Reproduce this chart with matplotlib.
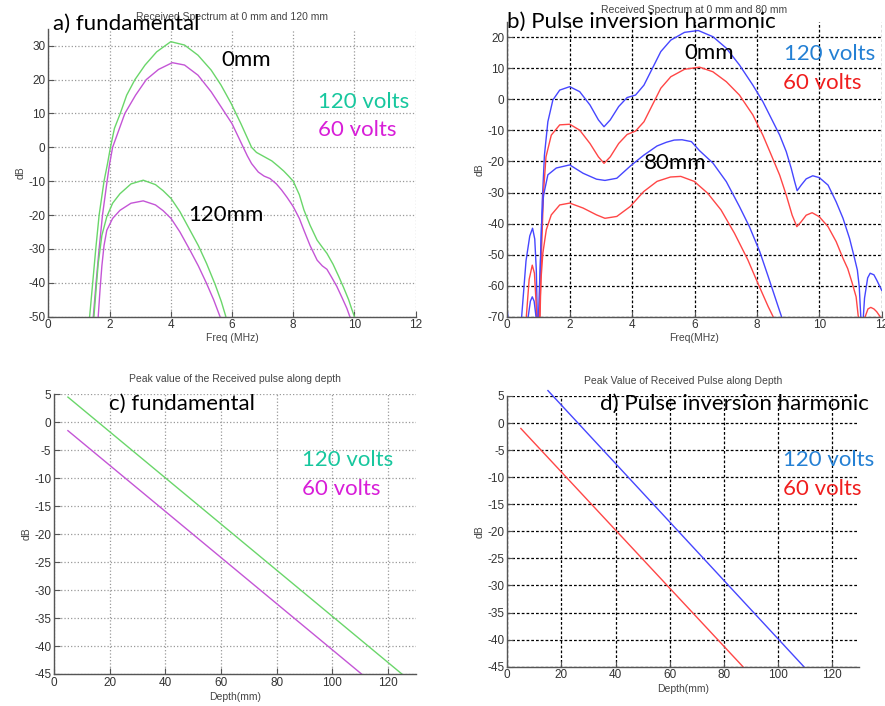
import numpy as np
from matplotlib import pyplot as plt

# a) espectro fundamental (0 mm e 120 mm)
a_f_0mm_120v = [1.33, 1.35, 1.45, 1.55, 1.66, 1.82, 1.93, 2.03, 2.16, 2.35, 2.56, 2.83, 3.16, 3.54, 4.0, 4.45, 4.89, 5.32, 5.64, 5.97, 6.29, 6.64, 6.8, 7.0, 7.3, 7.5, 7.69, 7.85, 8.0, 8.2, 8.35, 8.55, 8.78, 8.95, 9.1, 9.3, 9.48, 9.65, 9.81, 9.92, 10.0, 10.02]
a_db_0mm_120v = [-53, -50, -40, -30, -20, -10, -5, 0, 5.6, 10, 15.4, 20, 24.3, 28.2, 31.2, 30.2, 27.2, 22.8, 18.4, 13, 7, 0, -1.5, -2.5, -4, -5.5, -7, -8.5, -10, -14, -18.5, -23, -27.4, -29.5, -31.3, -34.5, -38, -41.5, -45, -48, -50, -53]
a_f_0mm_60v = [1.45, 1.47, 1.56, 1.66, 1.77, 1.92, 2.0, 2.1, 2.3, 2.5, 2.85, 3.2, 3.6, 4.05, 4.45, 4.89, 5.32, 5.64, 6.0, 6.29, 6.5, 6.64, 6.86, 7.05, 7.24, 7.45, 7.62, 7.8, 8.0, 8.2, 8.35, 8.55, 8.78, 8.95, 9.1, 9.25, 9.42, 9.6, 9.75, 9.85, 9.87]
a_db_0mm_60v = [-53, -50, -40, -30, -20, -10, -5, 0, 5, 10, 15.4, 20, 23, 25, 24.3, 21.3, 16.4, 12, 7, 1.5, -2.5, -4.8, -7.3, -8.5, -9.2, -10.8, -12.6, -14.8, -17.5, -21, -24.5, -29, -33.3, -35, -36, -38.3, -41, -44.5, -47.5, -50, -53]
a_f_120mm_120v = [1.48, 1.49, 1.56, 1.63, 1.75, 1.91, 2.1, 2.34, 2.7, 3.1, 3.5, 3.75, 4.01, 4.3, 4.63, 4.9, 5.17, 5.45, 5.65, 5.8, 5.83]
a_db_120mm_120v = [-53, -50, -42, -34.3, -26, -20.5, -16.5, -13.7, -10.8, -9.7, -11, -12.8, -15.1, -19, -24.5, -29, -34.3, -40.5, -45.5, -50, -53]
a_f_120mm_60v = [1.62, 1.63, 1.69, 1.75, 1.82, 1.91, 2.1, 2.34, 2.7, 3.1, 3.5, 3.75, 4.01, 4.3, 4.63, 4.9, 5.17, 5.4, 5.61, 5.64]
a_db_120mm_60v = [-53, -50, -42, -35, -29, -24.5, -21, -18.6, -16.5, -15.8, -17, -18.7, -21, -25, -30.4, -35, -40.2, -45, -50, -53]

# b) espectro harmonico por inversao de pulso (0 mm e 80 mm)
b_f_0mm_120v = [0, 0.06, 0.46, 0.6, 0.72, 0.81, 0.88, 0.93, 0.97, 1.03, 1.06, 1.12, 1.19, 1.30, 1.46, 1.68, 2.0, 2.32, 2.65, 2.92, 3.10, 3.3, 3.57, 3.84, 4.11, 4.38, 4.65, 4.92, 5.24, 5.68, 6.12, 6.59, 7.02, 7.44, 7.87, 8.19, 8.46, 8.73, 8.94, 9.1, 9.21, 9.29, 9.42, 9.58, 9.79, 10.0, 10.28, 10.54, 10.76, 10.97, 11.13, 11.22, 11.28, 11.33, 11.38, 11.45, 11.55, 11.63, 11.75, 11.84, 12.0]
b_db_0mm_120v = [-68, -75, -70, -52, -44, -41.5, -45, -55, -75, -70, -55, -33, -18, -7.2, -0.2, 3.0, 4.1, 2.5, -1.8, -6.6, -8.8, -6.6, -2.3, 0.6, 1.4, 4.6, 10, 15.4, 19.1, 21.6, 22.2, 20.2, 16.5, 11.1, 4.6, -0.7, -6.1, -11.5, -16.8, -22.2, -26.5, -29.4, -27.6, -25.6, -24.6, -25.2, -27.6, -33, -38.3, -44.8, -51.2, -55, -60.3, -70, -75, -64, -57.5, -56, -56.5, -58.2, -61.5]
b_f_0mm_60v = [0.55, 0.61, 0.7, 0.8, 0.87, 0.92, 0.96, 1.05, 1.10, 1.16, 1.24, 1.41, 1.68, 2.0, 2.32, 2.65, 2.92, 3.10, 3.3, 3.57, 3.84, 4.11, 4.38, 4.65, 4.92, 5.24, 5.68, 6.16, 6.59, 7.02, 7.44, 7.87, 8.19, 8.46, 8.73, 8.94, 9.13, 9.28, 9.42, 9.58, 9.77, 10.0, 10.28, 10.54, 10.76, 10.91, 11.05, 11.18, 11.25, 11.32, 11.47, 11.56, 11.65, 11.75, 11.84, 11.95, 12.0]
b_db_0mm_60v = [-75, -70, -58, -53.4, -56, -65, -75, -70, -48, -30, -18.5, -11.5, -8.2, -8.0, -9.9, -14.2, -18.5, -20.6, -18.5, -14.2, -11.3, -10.2, -7.2, -1.8, 3.6, 7.3, 9.7, 10.4, 8.9, 5.7, 1.4, -5, -11.5, -17.9, -24.4, -30.8, -37.3, -41, -39.4, -37.3, -36.5, -37.8, -41, -45.8, -51.2, -54.5, -59, -63.6, -70, -75, -70, -67.5, -67, -67.5, -68.4, -70, -75]
b_f_80mm_120v = [0.62, 0.67, 0.74, 0.80, 0.86, 0.92, 0.97, 1.0, 1.05, 1.10, 1.16, 1.30, 1.57, 2.0, 2.43, 2.86, 3.13, 3.51, 3.94, 4.37, 4.8, 5.1, 5.35, 5.6, 5.9, 6.16, 6.59, 7.02, 7.44, 7.76, 8.09, 8.36, 8.68, 8.79, 8.85]
b_db_80mm_120v = [-75, -70, -65, -63.6, -65, -70, -75, -70, -55, -40, -31, -24.3, -22.1, -21.1, -23.8, -25.7, -26.1, -25.4, -21.5, -18, -15, -13.8, -13.1, -13.0, -13.6, -16.5, -20.5, -26.5, -34.5, -41, -49, -57, -66.7, -70, -75]
b_f_80mm_60v = [1.0, 1.03, 1.08, 1.14, 1.25, 1.41, 1.68, 2.0, 2.43, 2.86, 3.13, 3.51, 3.94, 4.37, 4.8, 5.23, 5.56, 5.99, 6.42, 6.85, 7.28, 7.71, 8.03, 8.36, 8.52, 8.58]
b_db_80mm_60v = [-75, -70, -58, -49.5, -42, -37.2, -34, -33.4, -35, -37.2, -38.3, -37.7, -34.5, -29.7, -26.4, -25, -24.8, -26.4, -30.2, -35.6, -43.1, -51.7, -59.2, -66.7, -70, -75]

# c) e d) pico do pulso recebido ao longo da profundidade
c_depth_120v = [5, 125]
c_db_120v = [4.5, -45]
c_depth_60v = [5, 110.5]
c_db_60v = [-1.5, -45]
d_depth_120v = [15, 109.5]
d_db_120v = [6, -45]
d_depth_60v = [5, 87]
d_db_60v = [-1, -45]

W, H = 885, 706
fig = plt.figure(figsize=(W / 100, H / 100), dpi=100)
plt.rcParams['font.family'] = ['Liberation Sans', 'DejaVu Sans']
plt.rcParams['axes.unicode_minus'] = False

verde, magenta = '#6ad66a', '#c455d6'
azul, vermelho = '#4646ff', '#ff4646'
txt_verde, txt_mag = '#17c79e', '#d81ed8'
txt_azul, txt_verm = '#2480d4', '#f01e1e'
anot = ['Lato', 'DejaVu Sans']


def eixo(l, r, t, b):
    # posição em pixels -> fração da figura
    return fig.add_axes([l / W, 1 - b / H, (r - l) / W, (b - t) / H])


def estilo(ax, xt, yt, xl, yl, grade):
    ax.set_xlim(xl)
    ax.set_ylim(yl)
    ax.set_xticks(xt)
    ax.set_yticks(yt)
    for s in ['top', 'right']:
        ax.spines[s].set_visible(False)
    for s in ['left', 'bottom']:
        ax.spines[s].set_color('#555555')
        ax.spines[s].set_linewidth(1.0)
    ax.tick_params(direction='in', length=4, width=0.8, labelsize=8.5,
                   colors='#555555', labelcolor='#333333', pad=2)
    if grade == 'cinza':
        ax.grid(True, color='#999999', linestyle=':', linewidth=0.9)
    else:
        ax.grid(True, color='black', linestyle=(0, (2.2, 1.6)), linewidth=0.9)
    ax.set_axisbelow(True)


def texto(x, y, s, cor='black', tam=16):
    fig.text(x / W, 1 - y / H, s, color=cor, fontsize=tam, family=anot,
             ha='left', va='center')


# ---- a) fundamental
ax = eixo(48.3, 415.7, 28.8, 316.7)
estilo(ax, range(0, 13, 2), range(-50, 31, 10), (0, 12), (-50, 35), 'cinza')
ax.plot(a_f_0mm_120v, a_db_0mm_120v, color=verde, lw=1)
ax.plot(a_f_0mm_60v, a_db_0mm_60v, color=magenta, lw=1)
ax.plot(a_f_120mm_120v, a_db_120mm_120v, color=verde, lw=1)
ax.plot(a_f_120mm_60v, a_db_120mm_60v, color=magenta, lw=1)
ax.set_title('Received Spectrum at 0 mm and 120 mm', fontsize=7.5, color='#444444', pad=6)
ax.set_xlabel('Freq (MHz)', fontsize=7.5, color='#444444', labelpad=1)
ax.set_ylabel('dB', fontsize=7.5, color='#444444', labelpad=2)

# ---- b) inversão de pulso
ax = eixo(507.3, 881.7, 21.8, 316.7)
estilo(ax, range(0, 13, 2), range(-70, 21, 10), (0, 12), (-70, 25), 'preta')
ax.plot(b_f_0mm_120v, b_db_0mm_120v, color=azul, lw=1)
ax.plot(b_f_0mm_60v, b_db_0mm_60v, color=vermelho, lw=1)
ax.plot(b_f_80mm_120v, b_db_80mm_120v, color=azul, lw=1)
ax.plot(b_f_80mm_60v, b_db_80mm_60v, color=vermelho, lw=1)
ax.set_title('Received Spectrum at 0 mm and 80 mm', fontsize=7.5, color='#444444', pad=6)
ax.set_xlabel('Freq(MHz)', fontsize=7.5, color='#444444', labelpad=1)
ax.set_ylabel('dB', fontsize=7.5, color='#444444', labelpad=2)

# ---- c) pico fundamental
ax = eixo(54, 415.8, 394.3, 674)
estilo(ax, range(0, 121, 20), range(-45, 6, 5), (0, 130), (-45, 5), 'cinza')
ax.plot(c_depth_120v, c_db_120v, color=verde, lw=1, clip_on=False)
ax.plot(c_depth_60v, c_db_60v, color=magenta, lw=1, clip_on=False)
ax.set_title('Peak value of the Received pulse along depth', fontsize=7.5, color='#444444', pad=9)
ax.set_xlabel('Depth(mm)', fontsize=7.5, color='#444444', labelpad=2)
ax.set_ylabel('dB', fontsize=7.5, color='#444444', labelpad=2)

# ---- d) pico harmonico
ax = eixo(507.3, 859.4, 396, 666.7)
estilo(ax, range(0, 121, 20), range(-45, 6, 5), (0, 130), (-45, 5), 'preta')
ax.plot(d_depth_120v, d_db_120v, color=azul, lw=1, clip_on=False)
ax.plot(d_depth_60v, d_db_60v, color=vermelho, lw=1, clip_on=False)
ax.set_title('Peak Value of Received Pulse along Depth', fontsize=7.5, color='#444444', pad=9)
ax.set_xlabel('Depth(mm)', fontsize=7.5, color='#444444', labelpad=2)
ax.set_ylabel('dB', fontsize=7.5, color='#444444', labelpad=2)

# anotações sobre os gráficos
texto(53, 24, 'a) fundamental')
texto(221, 60, '0mm')
texto(188, 215, '120mm')
texto(318, 102, '120 volts', txt_verde)
texto(318, 130, '60 volts', txt_mag)

texto(507, 22, 'b) Pulse inversion harmonic')
texto(684, 53, '0mm')
texto(644, 163, '80mm')
texto(784, 54, '120 volts', txt_azul)
texto(783, 83, '60 volts', txt_verm)

texto(109, 404, 'c) fundamental')
texto(302, 460, '120 volts', txt_verde)
texto(302, 489, '60 volts', txt_mag)

texto(600, 404, 'd) Pulse inversion harmonic')
texto(783, 460, '120 volts', txt_azul)
texto(783, 489, '60 volts', txt_verm)

fig.savefig('out.png', dpi=100)
